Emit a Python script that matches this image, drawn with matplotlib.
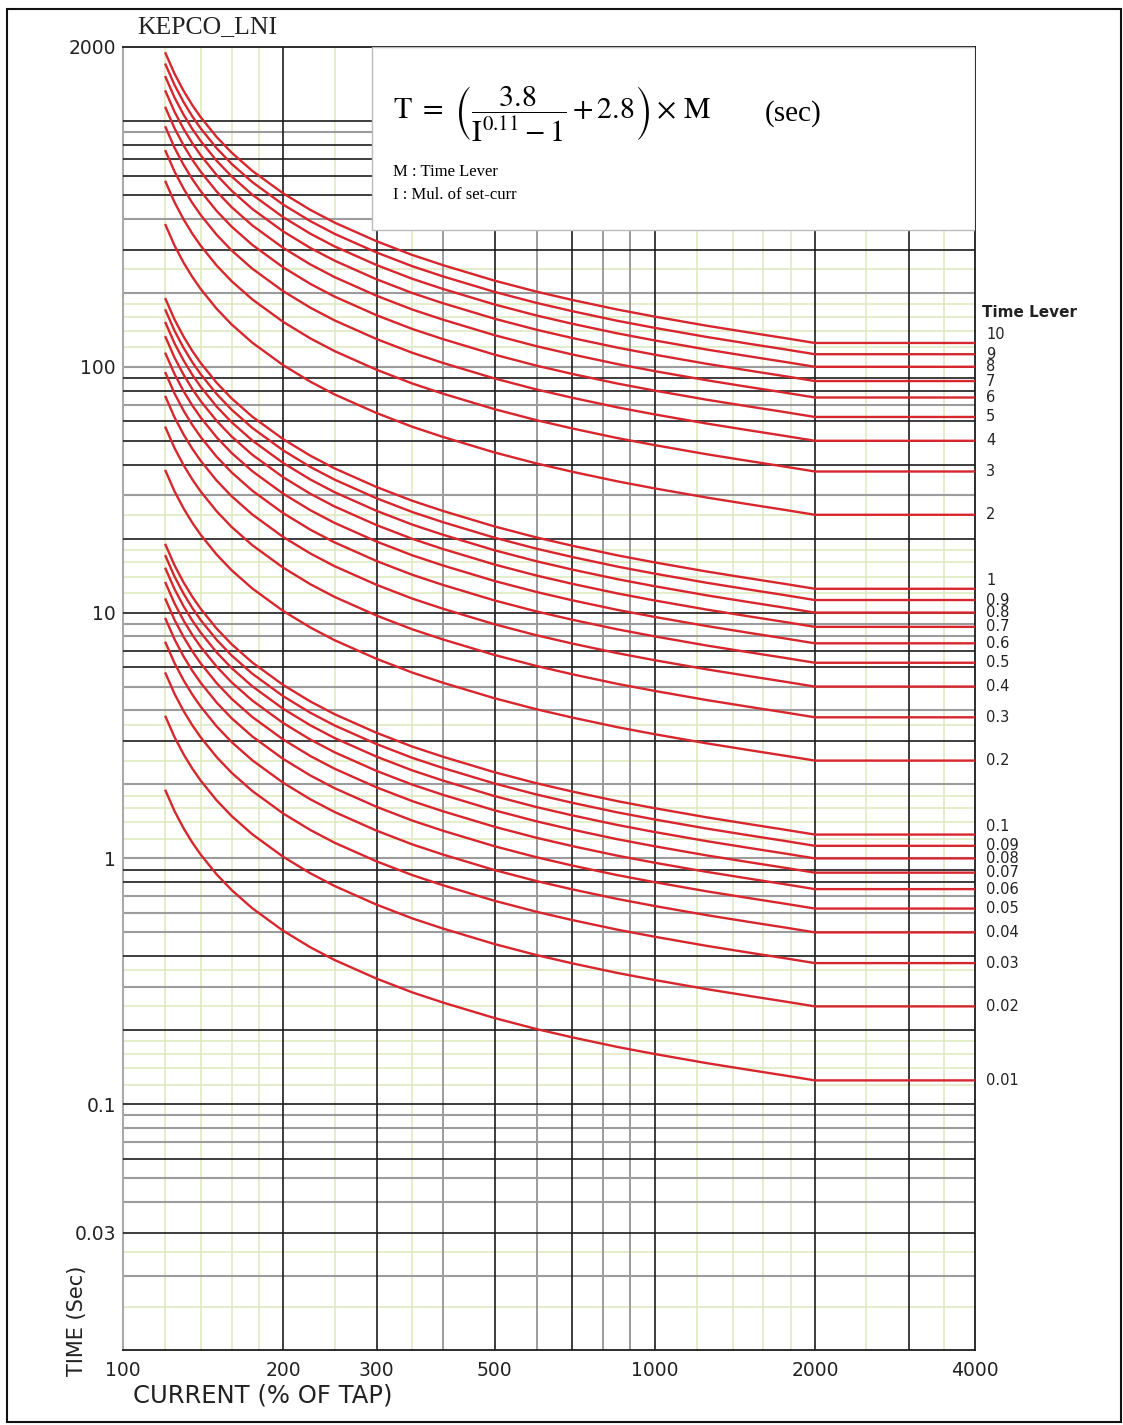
import numpy as np
import matplotlib.pyplot as plt
from matplotlib.patches import Rectangle
from matplotlib.transforms import blended_transform_factory

# 전류 (% of tap) 와 Time Lever M=1 기준 동작시간 (sec), 그림에서 읽은 값
current_pct = [120, 125, 130, 135, 140, 150, 160, 175, 200, 225, 250, 300, 350,
               400, 500, 600, 700, 850, 1000, 1250, 1500, 1750, 2000, 4000]
base_time = [190.4, 155.7, 132.6, 116.0, 103.6, 86.1, 74.4, 62.7, 50.8, 43.5, 38.6,
             32.4, 28.5, 25.9, 22.4, 20.2, 18.7, 17.1, 16.0, 14.7, 13.8, 13.1, 12.5, 12.5]

time_levers = [10, 9, 8, 7, 6, 5, 4, 3, 2, 1,
               0.9, 0.8, 0.7, 0.6, 0.5, 0.4, 0.3, 0.2, 0.1,
               0.09, 0.08, 0.07, 0.06, 0.05, 0.04, 0.03, 0.02, 0.01]
lever_labels = ['10', '9', '8', '7', '6', '5', '4', '3', '2', '1',
                '0.9', '0.8', '0.7', '0.6', '0.5', '0.4', '0.3', '0.2', '0.1',
                '0.09', '0.08', '0.07', '0.06', '0.05', '0.04', '0.03', '0.02', '0.01']

x_ticks = [100, 200, 300, 500, 1000, 2000, 4000]
x_ticklabels = ['100', '200', '300', '500', '1000', '2000', '4000']
y_ticks = [0.03, 0.1, 1, 10, 100, 2000]
y_ticklabels = ['0.03', '0.1', '1', '10', '100', '2000']

# 격자선 (스캔된 원본처럼 진한선/회색선/연한선)
vgrid_black = [200, 300, 500, 700, 1000, 2000, 3000]
vgrid_gray = [400, 600, 800, 900]
vgrid_light = [120, 140, 160, 180, 250, 350, 1200, 1400, 1600, 1800, 2500, 3500]
hgrid_black = [1000, 800, 700, 600, 500, 300, 90, 80, 60, 50, 40, 20, 10, 7, 6, 3,
               0.9, 0.8, 0.4, 0.2, 0.1, 0.06, 0.03]
hgrid_gray = [900, 400, 200, 100, 70, 30, 9, 8, 5, 4, 2, 1, 0.7, 0.6, 0.5, 0.3,
              0.09, 0.08, 0.07, 0.05, 0.04, 0.02]
hgrid_light = [250, 180, 160, 140, 120, 25, 18, 16, 14, 12, 3.5, 2.5, 1.8, 1.6, 1.4, 1.2,
               0.35, 0.25, 0.18, 0.16, 0.14, 0.12, 0.025, 0.015]

BLACK = '#1c1c1c'
GRAY = '#9c9c9c'
LIGHT = '#dde8bd'
RED = '#d7262d'

fig = plt.figure(figsize=(11.23, 14.25), dpi=100)
ax = fig.add_axes([123 / 1123, 1 - 1350 / 1425, 852 / 1123, 1303 / 1425])
ax.set_xscale('log')
ax.set_yscale('log')
ax.set_xlim(100, 4000)
ax.set_ylim(0.01, 2000)

for v in vgrid_light:
    ax.axvline(v, color=LIGHT, lw=1.1, zorder=1)
for v in hgrid_light:
    ax.axhline(v, color=LIGHT, lw=1.1, zorder=1)
for v in vgrid_gray:
    ax.axvline(v, color=GRAY, lw=1.4, zorder=2)
for v in hgrid_gray:
    ax.axhline(v, color=GRAY, lw=1.5, zorder=2)
for v in vgrid_black:
    ax.axvline(v, color=BLACK, lw=1.2, zorder=3)
for v in hgrid_black:
    ax.axhline(v, color=BLACK, lw=1.2, zorder=3)

base = np.array(base_time)
for m in time_levers:
    ax.plot(current_pct, base * m, color=RED, lw=1.7, zorder=4, solid_capstyle='butt')

# 오른쪽 Time Lever 라벨 (10, 1, 0.1 은 원본처럼 살짝 위로)
lab_tr = blended_transform_factory(ax.transAxes, ax.transData)
for m, lab in zip(time_levers, lever_labels):
    dy = 6 if lab in ('10', '1', '0.1') else 0
    ax.annotate(lab, xy=(1.013, base[-1] * m), xycoords=lab_tr,
                xytext=(0, dy), textcoords='offset points',
                ha='left', va='center', fontsize=10.5, color='#222222')
ax.text(1.008, 0.796, 'Time Lever', transform=ax.transAxes, ha='left', va='center',
        fontsize=11, fontweight='bold', color='#222222')

ax.set_xticks(x_ticks)
ax.set_xticklabels(x_ticklabels)
ax.set_yticks(y_ticks)
ax.set_yticklabels(y_ticklabels)
ax.minorticks_off()
ax.tick_params(axis='both', length=0, labelsize=13.5, colors='#222222')
ax.tick_params(axis='x', pad=8)
ax.tick_params(axis='y', pad=5)

for side in ['top', 'right', 'bottom']:
    ax.spines[side].set_color(BLACK)
    ax.spines[side].set_linewidth(1.3)
ax.spines['left'].set_color('#aaaaaa')
ax.spines['left'].set_linewidth(1.5)

# 수식 박스
box = Rectangle((0.292, 0.8596), 0.708, 0.1404, transform=ax.transAxes,
                facecolor='white', edgecolor='#bbbbbb', lw=1.0, zorder=6)
ax.add_patch(box)
ax.text(0.317, 0.9493,
        r'$\mathrm{T}\ =\ \left(\dfrac{3.8}{\mathrm{I}^{0.11}-1}+2.8\right)\times\,\mathrm{M}$',
        transform=ax.transAxes, ha='left', va='center', fontsize=21.5,
        math_fontfamily='stix', zorder=7)
ax.text(0.7535, 0.9493, '(sec)', transform=ax.transAxes, ha='left', va='center',
        fontsize=21, family='Liberation Serif', zorder=7)
ax.text(0.317, 0.904, 'M : Time Lever', transform=ax.transAxes, ha='left', va='center',
        fontsize=12, family='Liberation Serif', zorder=7)
ax.text(0.317, 0.8864, 'I : Mul. of set-curr', transform=ax.transAxes, ha='left',
        va='center', fontsize=12, family='Liberation Serif', zorder=7)

ax.text(0.0164, 1.0153, 'KEPCO_LNI', transform=ax.transAxes, ha='left', va='center',
        fontsize=18.5, family='Liberation Serif', color='#222222')

fig.text(77 / 1123, 1 - 1321 / 1425, 'TIME (Sec)', rotation=90, ha='center', va='center',
         fontsize=15, color='#222222')
fig.text(263 / 1123, 1 - 1395 / 1425, 'CURRENT (% OF TAP)', ha='center', va='center',
         fontsize=17.5, color='#222222')

frame = Rectangle((7 / 1123, 1 - 1422 / 1425), 1114 / 1123, 1413 / 1425,
                  transform=fig.transFigure, fill=False, edgecolor='#111111', lw=1.5)
fig.patches.append(frame)

fig.savefig('out.png', dpi=100)
